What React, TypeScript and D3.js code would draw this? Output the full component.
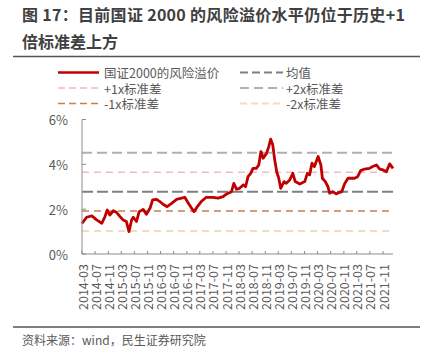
import React from "react";
import * as d3 from "d3";

const dates = [
  "2014-03-01","2014-04-13","2014-06-01","2014-07-15","2014-09-01","2014-10-01","2014-10-22","2014-11-15","2014-12-18",
  "2015-01-18","2015-02-18","2015-03-18","2015-04-18","2015-05-12","2015-06-06","2015-06-21","2015-07-21","2015-08-15",
  "2015-09-21","2015-10-21","2015-11-24","2015-12-18","2016-01-24","2016-02-24","2016-03-24","2016-05-01","2016-06-12",
  "2016-07-28","2016-09-12","2016-10-12","2016-11-15","2016-12-15","2017-01-06","2017-02-06","2017-03-15","2017-05-01",
  "2017-07-01","2017-08-18","2017-10-04","2017-11-06","2017-12-21","2018-01-12","2018-02-06","2018-03-06","2018-04-09",
  "2018-05-01","2018-05-24","2018-06-18","2018-07-09","2018-08-09","2018-09-01","2018-09-21","2018-10-12","2018-11-12",
  "2018-12-03","2018-12-21","2019-01-09","2019-01-27","2019-02-15","2019-03-06","2019-03-24","2019-04-24","2019-05-15",
  "2019-06-15","2019-07-15","2019-08-06","2019-09-18","2019-11-03","2019-11-27","2019-12-18","2020-01-09","2020-02-01",
  "2020-03-06","2020-04-01","2020-04-15","2020-05-12","2020-06-06","2020-06-21","2020-07-21","2020-08-21","2020-09-21",
  "2020-10-12","2020-11-09","2020-12-09","2021-01-09","2021-02-09","2021-03-09","2021-04-06","2021-05-12","2021-06-27",
  "2021-07-27","2021-09-01","2021-10-01","2021-11-01","2021-12-01","2022-01-01","2022-02-01"
];
const premium = [
  1.37,1.64,1.70,1.52,1.37,1.67,1.96,1.74,1.93,
  1.85,1.67,1.52,1.45,1.00,1.52,1.64,1.45,1.89,
  1.99,1.77,2.04,2.41,2.44,2.34,2.22,2.11,2.26,
  2.44,2.49,2.53,2.26,2.04,1.89,2.11,2.34,2.53,
  2.53,2.49,2.56,2.68,2.78,3.15,2.89,2.93,3.08,
  3.00,3.45,3.60,3.82,3.82,3.97,4.57,4.27,4.49,
  4.79,5.12,4.87,4.20,3.67,3.38,2.93,3.23,3.15,
  3.30,3.60,3.23,3.12,3.23,3.60,3.53,4.05,3.90,
  4.35,3.97,3.38,3.23,3.00,2.71,2.78,2.68,2.75,
  2.78,3.15,3.38,3.38,3.38,3.45,3.72,3.79,3.82,
  3.90,3.97,3.79,3.75,3.67,4.02,3.82
];

const bandNames = ["均值", "+1x标准差", "+2x标准差", "-1x标准差", "-2x标准差"];
const bandValues = [2.78, 3.65, 4.52, 1.92, 1.03];
const bandColors = ["#7f7f7f", "#f4b9b9", "#b0b0b0", "#c8804e", "#f1dcc2"];
const bandWidths = [2, 1.5, 2, 1.5, 2];
const bandDash = ["11,4", "7,5", "10,5", "7,5", "7,5"];

const seriesName = "国证2000的风险溢价";
const yTicks = [0, 2, 4, 6];
const tickLabels = [
  "2014-03","2014-07","2014-11","2015-03","2015-07","2015-11","2016-03","2016-07","2016-11","2017-03","2017-07","2017-11",
  "2018-03","2018-07","2018-11","2019-03","2019-07","2019-11","2020-03","2020-07","2020-11","2021-03","2021-07","2021-11"
];

const FONT = "'Noto Sans CJK SC', 'Noto Sans', sans-serif";

export default function App() {
  const parse = d3.timeParse("%Y-%m-%d");
  const parseM = d3.timeParse("%Y-%m");
  const x = d3.scaleTime().domain([parse("2014-03-01")!, parse("2022-02-01")!]).range([82, 393]);
  const y = d3.scaleLinear().domain([0, 6]).range([254, 119.5]);
  const data = dates.map((d, i) => ({ date: parse(d)!, v: premium[i] }));
  const line = d3.line<{ date: Date; v: number }>().x((d) => x(d.date)).y((d) => y(d.v));
  const axisColor = "#8c8c8c";
  const textColor = "#595959";

  const legendItems = [
    { name: seriesName, color: "#c00000", w: 2.6, dash: undefined as string | undefined, col: 0, row: 0 },
    { name: bandNames[0], color: bandColors[0], w: bandWidths[0], dash: "8,4", col: 1, row: 0 },
    { name: bandNames[1], color: bandColors[1], w: bandWidths[1], dash: "7,4", col: 0, row: 1 },
    { name: bandNames[2], color: bandColors[2], w: bandWidths[2], dash: "9,5", col: 1, row: 1 },
    { name: bandNames[3], color: bandColors[3], w: bandWidths[3], dash: "7,4", col: 0, row: 2 },
    { name: bandNames[4], color: bandColors[4], w: bandWidths[4], dash: "7,4", col: 1, row: 2 },
  ];
  const colX = [[58, 99, 104], [240, 283, 286]];
  const rowY = [72.5, 88, 103.5];

  return (
    <svg width={433} height={352} style={{ position: "absolute", left: 0, top: 0, background: "#fff" }} fontFamily={FONT}>
      <text x={22} y={14} fontSize={16} fontWeight="bold" fill="#404040" dominantBaseline="central" letterSpacing={0.3}>
        图 17：目前国证 2000 的风险溢价水平仍位于历史+1
      </text>
      <text x={22} y={41} fontSize={16} fontWeight="bold" fill="#404040" dominantBaseline="central">
        倍标准差上方
      </text>
      <line x1={13} x2={420} y1={56.5} y2={56.5} stroke="#555" strokeWidth={1.3} />

      {legendItems.map((it, i) => (
        <g key={i}>
          <line x1={colX[it.col][0]} x2={colX[it.col][1]} y1={rowY[it.row]} y2={rowY[it.row]}
            stroke={it.color} strokeWidth={it.w} strokeDasharray={it.dash} />
          <text x={colX[it.col][2]} y={rowY[it.row]} fontSize={12.5} fill={textColor} dominantBaseline="central">
            {it.name}
          </text>
        </g>
      ))}

      {bandValues.map((v, i) => (
        <line key={i} x1={82} x2={393} y1={y(v)} y2={y(v)} stroke={bandColors[i]}
          strokeWidth={bandWidths[i]} strokeDasharray={bandDash[i]} />
      ))}

      <path d={line(data) || ""} fill="none" stroke="#c00000" strokeWidth={2.8} strokeLinejoin="round" />

      <line x1={82} x2={82} y1={119.5} y2={254} stroke={axisColor} strokeWidth={1} />
      {yTicks.map((t) => (
        <g key={t}>
          <line x1={82} x2={86} y1={y(t)} y2={y(t)} stroke={axisColor} />
          <text x={68} y={y(t)} fontSize={13} fill={textColor} textAnchor="end" dominantBaseline="central">
            {t}%
          </text>
        </g>
      ))}

      <line x1={82} x2={393} y1={254} y2={254} stroke={axisColor} strokeWidth={1} />
      {tickLabels.map((t) => {
        const px = x(parseM(t)!);
        return (
          <g key={t}>
            <line x1={px} x2={px} y1={254} y2={251} stroke={axisColor} />
            <text transform={`translate(${px},264) rotate(-90)`} fontSize={12.5} fill={textColor}
              textAnchor="end" dominantBaseline="central">
              {t}
            </text>
          </g>
        );
      })}

      <line x1={13} x2={420} y1={327} y2={327} stroke="#555" strokeWidth={1.3} />
      <text x={22} y={339} fontSize={12} fill={textColor} dominantBaseline="central">
        资料来源：wind，民生证券研究院
      </text>
    </svg>
  );
}
